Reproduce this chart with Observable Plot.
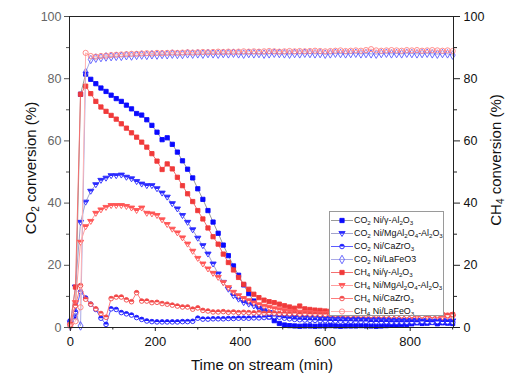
<!DOCTYPE html>
<html><head><meta charset="utf-8">
<script src="https://cdn.jsdelivr.net/npm/d3@7"></script>
<script src="https://cdn.jsdelivr.net/npm/@observablehq/plot@0.6"></script>
<style>
body{margin:0;background:#fff;font-family:"Liberation Sans",Arial,sans-serif;}
#wrap{position:relative;width:505px;height:376px;overflow:hidden;background:#fff}
#chart{position:absolute;left:0;top:0}
.ttl{position:absolute;font-size:15px;line-height:15px;color:#111;white-space:nowrap;transform:translate(-50%,-50%)}
.rot{transform:translate(-50%,-50%) rotate(-90deg)}
.ttl sub{font-size:10px;vertical-align:-3px;line-height:0}
#legend{position:absolute;left:329px;top:211px;width:115px;height:105px;border:1px solid #9a9a9a;background:#fff;box-sizing:border-box;padding-top:1.5px;overflow:hidden}
.lr{height:13px;display:flex;align-items:center;font-size:8.9px;color:#111;white-space:nowrap}
.lr svg{flex:none;margin-right:1px}
.lr sub{font-size:6.2px;vertical-align:-1.5px;line-height:0}
</style></head><body>
<div id="wrap">
<div id="chart"></div>
<div class="ttl rot" style="left:30px;top:168px">CO<sub>2</sub> conversion (%)</div>
<div class="ttl rot" style="left:495px;top:160px">CH<sub>4</sub> conversion (%)</div>
<div class="ttl" style="left:262px;top:364px">Time on stream (min)</div>
<div id="legend"></div>
</div>
<script>
// ---- data (time on stream in min) ----
const time = [0,12,24,36,48,60,72,84,96,108,120,132,144,156,168,180,192,204,216,228,240,252,264,276,288,300,312,324,336,348,360,372,384,396,408,420,432,444,456,468,480,492,504,516,528,540,552,564,576,588,600,612,624,636,648,660,672,684,696,708,720,732,744,756,768,780,792,804,816,828,840,852,864,876,888,900];

const co2Gamma = [2.0,3.5,75.0,81.5,79.8,78.4,77.0,75.9,74.7,73.6,72.7,71.5,70.3,68.8,68.3,66.8,65.0,62.8,60.4,61.0,58.9,56.4,53.6,50.9,48.1,44.6,41.2,37.6,33.9,30.3,26.5,23.1,19.8,16.8,13.7,10.9,8.5,6.9,5.3,3.4,2.2,1.3,0.8,0.6,
 0.5,0.4,0.5,0.5,0.4,0.5,0.5,0.6,0.5,0.4,0.5,0.5,0.5,0.6,0.5,0.5,0.4,0.5,0.6,0.7,0.8,0.9,1.0,
 1.2,1.5,1.3,1.4,1.6,1.2,1.5,1.4,1.3];
const co2Mg = [1.5,13.0,33.8,40.3,43.8,45.9,47.3,48.0,48.8,48.8,49.0,48.3,47.8,46.9,46.1,45.6,45.6,44.6,43.2,41.9,39.8,38.1,36.0,33.8,31.4,28.7,26.3,23.6,20.4,17.2,14.5,12.3,10.2,9.1,8.0,7.5,6.9,5.9,5.3,4.8,4.3,4.0,3.8,3.6,3.5,3.4,3.3,3.2,3.2,3.1,3.0,
 3.0,2.9,2.9,2.8,2.8,2.7,2.7,2.6,2.6,2.6,2.5,2.5,2.4,2.4,2.3,2.3,
 2.2,2.3,2.1,2.2,2.0,2.1,2.2,2.0,2.1];
const co2CaZr = [1.5,5.0,11.5,9.5,7.5,5.8,3.0,1.0,6.0,5.8,4.8,4.4,4.0,3.2,2.6,2.1,1.9,1.8,1.8,1.8,1.8,1.8,1.9,1.9,2.0,3.0,2.7,2.7,2.8,2.8,2.8,2.9,2.9,3.0,3.0,3.0,3.1,3.1,3.2,3.4,3.5,3.3,3.0,2.8,2.6,2.5,2.4,2.3,2.3,2.2,2.2,
 2.1,2.1,2.0,2.0,2.0,1.9,1.9,1.9,1.8,1.8,1.8,1.8,1.7,1.7,1.7,1.7,
 1.8,1.7,1.9,1.8,1.7,1.9,1.8,1.8,1.7];
const co2LaFe = [0.5,4.8,0.5,82.0,86.2,86.6,86.8,87.0,87.1,87.2,87.2,87.4,87.3,87.5,87.6,87.5,87.7,87.6,87.8,87.7,87.9,87.8,87.8,88.0,87.9,
 88.0,87.9,88.1,88.0,87.9,88.1,88.0,88.2,88.0,87.9,
 88.1,88.0,88.1,87.9,88.0,88.2,88.1,88.0,87.9,88.1,
 88.0,88.2,88.1,88.0,88.1,87.9,88.0,88.2,88.1,88.0,
 88.1,88.2,88.0,88.1,88.0,87.9,88.1,88.2,88.0,88.1,
 88.0,88.2,88.1,88.0,88.1,88.2,88.0,87.9,88.1,88.0,
 87.6];
const ch4Gamma = [1.0,13.0,75.0,77.6,75.2,72.7,70.9,69.5,68.2,67.0,65.5,64.1,62.6,61.2,59.6,58.0,55.9,53.5,50.8,52.6,51.0,48.3,45.6,43.0,40.5,37.6,34.9,32.0,29.2,26.8,23.6,20.9,18.5,16.1,13.9,12.3,10.7,9.6,8.8,8.3,8.0,7.5,7.0,6.6,6.2,6.9,6.0,5.8,5.6,5.5,5.3,
 5.2,5.0,5.1,4.9,4.8,4.8,4.7,4.6,4.7,4.5,4.5,4.4,4.4,4.3,4.2,4.3,
 4.1,4.0,4.2,3.9,4.0,3.8,4.0,3.9,4.1];
const ch4Mg = [0.5,8.0,27.4,32.4,34.1,36.7,37.8,38.6,39.2,39.2,39.2,38.9,38.4,37.6,38.4,36.7,36.5,36.0,34.6,33.1,31.6,30.4,28.8,26.8,24.5,22.2,20.4,18.8,17.4,16.1,14.4,12.8,11.3,10.2,9.3,8.6,7.9,7.3,6.8,6.4,6.0,5.7,5.4,5.2,5.0,4.9,4.8,4.7,4.6,4.5,4.4,
 4.3,4.3,4.2,4.2,4.1,4.1,4.0,4.0,3.9,3.9,3.9,3.8,3.8,3.7,3.7,3.6,
 3.6,3.5,3.7,3.4,3.6,3.5,3.3,3.5,3.4];
const ch4CaZr = [1.0,7.0,13.5,9.1,7.5,6.0,4.5,3.3,9.3,9.8,9.8,8.9,8.3,11.2,8.5,8.5,8.0,8.1,7.7,7.5,7.2,6.9,6.6,6.6,5.9,6.3,5.5,5.3,5.0,5.0,5.1,4.9,5.0,4.8,4.9,4.8,4.7,4.8,4.6,4.7,4.6,4.5,4.5,4.4,4.5,4.3,4.4,4.3,4.3,4.2,4.2,
 4.2,4.1,4.2,4.1,4.0,4.1,4.0,4.0,3.9,4.0,3.9,3.9,3.8,3.9,3.8,3.8,
 3.9,4.1,3.8,4.2,3.9,4.0,4.3,3.9,4.2];
const ch4LaFe = [0.5,2.0,6.5,88.3,87.3,87.1,87.3,87.4,87.6,87.7,87.8,87.9,88.0,88.0,88.1,88.2,88.1,88.3,88.2,88.3,88.4,88.3,88.4,88.5,88.4,
 88.5,88.6,88.5,88.6,88.7,88.6,88.7,88.6,88.7,88.8,
 88.7,88.8,88.7,88.8,88.9,88.8,88.7,88.8,88.9,88.8,
 88.9,88.8,88.9,89.0,88.9,88.8,88.9,89.0,89.1,88.9,
 89.0,89.1,89.0,89.2,89.5,89.1,89.0,89.1,89.2,89.1,
 89.0,89.2,89.1,89.2,89.0,89.1,89.2,89.1,89.0,89.1,
 88.9];

const xTicks = [0,200,400,600,800];
const xMinor = [100,300,500,700,900];
const yTicks = [0,20,40,60,80,100];
const yMinor = [10,30,50,70,90];

// ---- custom half-filled symbols ----
const rad = s => Math.sqrt(s/Math.PI);
const triDown = {draw(c,s){const k=rad(s)*1.3;c.moveTo(-k,-0.65*k);c.lineTo(k,-0.65*k);c.lineTo(0,0.95*k);c.closePath();}};
const triDownTop = {draw(c,s){const k=rad(s)*1.3;c.moveTo(-k,-0.65*k);c.lineTo(k,-0.65*k);c.lineTo(0.53*k,0.1*k);c.lineTo(-0.53*k,0.1*k);c.closePath();}};
const circTop = {draw(c,s){const r=rad(s);c.moveTo(r,0);c.arc(0,0,r,0,Math.PI,true);c.closePath();}};

const BLUE="#0a0aff", RED="#f03a3a";
const styles = [
 {name:["CO","2"," Ni/γ-Al","2","O","3"], values:co2Gamma, line:"#9a9a9a", sym:"square", fill:BLUE, stroke:BLUE, top:null, r:2.4},
 {name:["CO","2"," Ni/MgAl","2","O","4","-Al","2","O","3"], values:co2Mg, line:"#a3a3cc", sym:triDown, fill:"#ffffff", stroke:"#2a2aff", top:triDownTop, topFill:"#2a2aff", r:2.4},
 {name:["CO","2"," Ni/CaZrO","3"], values:co2CaZr, line:"#5c5cff", sym:"circle", fill:"#ffffff", stroke:"#1c1cff", top:circTop, topFill:"#1c1cff", r:2.3},
 {name:["CO","2"," Ni/LaFeO3"], values:co2LaFe, line:"#a9a9e6", sym:"diamond", fill:"none", stroke:"#5a5aff", top:null, r:2.6},
 {name:["CH","4"," Ni/γ-Al","2","O","3"], values:ch4Gamma, line:"#f47070", sym:"square", fill:RED, stroke:RED, top:null, r:2.4},
 {name:["CH","4"," Ni/MgAl","2","O","4","-Al","2","O","3"], values:ch4Mg, line:"#ff9e9e", sym:triDown, fill:"#ffffff", stroke:"#ff5555", top:triDownTop, topFill:"#ff5555", r:2.4},
 {name:["CH","4"," Ni/CaZrO","3"], values:ch4CaZr, line:"#ff7c7c", sym:"circle", fill:"#ffffff", stroke:"#f24848", top:circTop, topFill:"#f24848", r:2.3},
 {name:["CH","4"," Ni/LaFeO","3"], values:ch4LaFe, line:"#ffb3b3", sym:"circle", fill:"none", stroke:"#ff8080", top:null, r:2.6}
];

const marks = [];
for (const s of styles) {
  const rows = time.map((t,i)=>({t, v:s.values[i]})).filter(d=>d.v!=null);
  marks.push(Plot.line(rows,{x:"t",y:"v",stroke:s.line,strokeWidth:1}));
  marks.push(Plot.dot(rows,{x:"t",y:"v",symbol:s.sym,r:s.r,fill:s.fill,stroke:s.stroke,strokeWidth:0.9}));
  if (s.top) marks.push(Plot.dot(rows,{x:"t",y:"v",symbol:s.top,r:s.r,fill:s.topFill,stroke:"none"}));
}

const chart = Plot.plot({
  width:505, height:376,
  marginLeft:69, marginRight:52, marginTop:16, marginBottom:49,
  x:{domain:[-2,902]},
  y:{domain:[0,100]},
  style:{fontFamily:"'Liberation Sans', Arial, sans-serif", background:"transparent", color:"#111"},
  marks:[
    ...marks,
    Plot.frame({stroke:"#222"}),
    Plot.axisX({ticks:xTicks, tickSize:4, tickPadding:5, fontSize:13, label:null, fill:"#111", stroke:"#222"}),
    Plot.axisX({ticks:xMinor, tickSize:2.5, tickFormat:()=>"", label:null, stroke:"#222"}),
    Plot.axisY({anchor:"left", ticks:yTicks, tickSize:5, tickPadding:3, fontSize:12.5, label:null, fill:"#666", stroke:"#555"}),
    Plot.axisY({anchor:"left", ticks:yMinor, tickSize:3, tickFormat:()=>"", label:null, stroke:"#555"}),
    Plot.axisY({anchor:"right", ticks:yTicks, tickSize:6, tickPadding:4, fontSize:12.5, label:null, fill:"#111", stroke:"#222"}),
    Plot.axisY({anchor:"right", ticks:yMinor, tickSize:3, tickFormat:()=>"", label:null, stroke:"#222"})
  ]
});
document.getElementById("chart").appendChild(chart);

// ---- legend ----
const NS="http://www.w3.org/2000/svg";
const lg = document.getElementById("legend");
function symPath(sym, r){
  const size = Math.PI*r*r;
  const p = d3.path();
  if (typeof sym === "string") {
    const t = {square:d3.symbolSquare, circle:d3.symbolCircle, diamond:d3.symbolDiamond}[sym];
    return d3.symbol(t, size)();
  }
  sym.draw(p, size); return p.toString();
}
for (const s of styles) {
  const row = document.createElement("div"); row.className="lr";
  const svg = document.createElementNS(NS,"svg"); svg.setAttribute("width",23); svg.setAttribute("height",13);
  const ln = document.createElementNS(NS,"line");
  ln.setAttribute("x1",1);ln.setAttribute("x2",23);ln.setAttribute("y1",6.5);ln.setAttribute("y2",6.5);
  ln.setAttribute("stroke",s.line);ln.setAttribute("stroke-width",1);svg.appendChild(ln);
  const g = document.createElementNS(NS,"g"); g.setAttribute("transform","translate(12,6.5)");
  const m = document.createElementNS(NS,"path"); m.setAttribute("d",symPath(s.sym,s.r));
  m.setAttribute("fill",s.fill);m.setAttribute("stroke",s.stroke);m.setAttribute("stroke-width",0.9);g.appendChild(m);
  if (s.top){const tp=document.createElementNS(NS,"path");tp.setAttribute("d",symPath(s.top,s.r));tp.setAttribute("fill",s.topFill);g.appendChild(tp);}
  svg.appendChild(g); row.appendChild(svg);
  const span = document.createElement("span");
  s.name.forEach((part,i)=>{ if(/^\d$/.test(part)){const sb=document.createElement("sub");sb.textContent=part;span.appendChild(sb);} else span.appendChild(document.createTextNode(part)); });
  row.appendChild(span);
  lg.appendChild(row);
}
</script>
</body></html>
